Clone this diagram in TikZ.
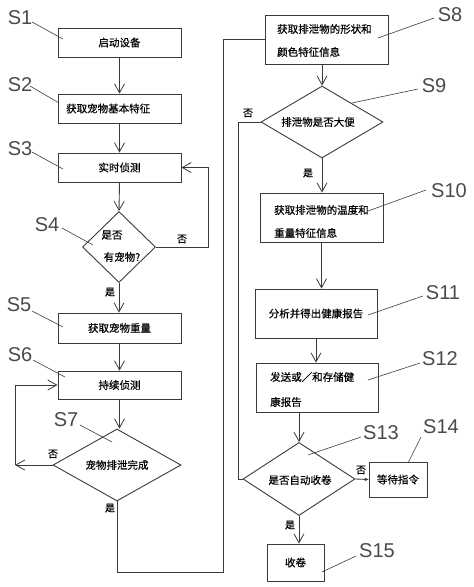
\documentclass[tikz,border=0pt]{standalone}
\usepackage{fontspec}
\setmainfont{Liberation Sans}
\newfontfamily\cjk[FakeBold=0.5]{Noto Sans CJK SC}
\usetikzlibrary{arrows.meta,shapes.geometric}
\definecolor{ln}{HTML}{3A3A3A}
\definecolor{lb}{HTML}{4A4A4A}
\tikzset{
  box/.style={draw=ln, line width=0.9pt, inner sep=0pt, font=\cjk\fontsize{10.5}{12}\selectfont},
  dia/.style={draw=ln, line width=0.9pt, diamond, inner sep=0pt, aspect=1},
  txt/.style={inner sep=0pt, font=\cjk\fontsize{10.5}{12}\selectfont},
  yn/.style={inner sep=0pt, font=\cjk\fontsize{10}{12}\selectfont},
  slab/.style={inner sep=0pt, text=lb, font=\fontsize{20}{22}\selectfont},
  lead/.style={draw=ln, line width=0.6pt},
  conn/.style={draw=ln, line width=0.9pt},
  arr/.style={conn, -{Straight Barb[length=9pt,width=10pt,line width=0.8pt]}},
  sarr/.style={conn, -{Stealth[length=4pt,width=3.5pt]}}
}
\begin{document}
\begin{tikzpicture}[x=1pt,y=-1pt]
\useasboundingbox (0,0) rectangle (474,587);
% ---- left column
\node[box, minimum width=123pt, minimum height=29pt] (s1) at (119.5,42.5) {启动设备};
\node[box, minimum width=123pt, minimum height=29pt] (s2) at (119.5,108.5) {};
\node[txt, anchor=west] (t2) at (66,108.5) {获取宠物基本特征};
\node[box, minimum width=123pt, minimum height=29pt] (s3) at (119.5,167.5) {实时侦测};
\node[dia, minimum width=73pt, minimum height=71pt] (s4) at (119,247) {};
\node[txt] (t4a) at (112,235) {是否};
\node[txt] (t4b) at (122,257) {有宠物?};
\node[box, minimum width=123pt, minimum height=30pt] (s5) at (119.5,328) {获取宠物重量};
\node[box, minimum width=123pt, minimum height=28pt] (s6) at (119.5,385) {持续侦测};
\node[dia, minimum width=128pt, minimum height=72pt] (s7) at (117,465) {};
\node[txt] (t7) at (117,465) {宠物排泄完成};
% ---- right column
\node[box, minimum width=123pt, minimum height=49pt] (s8) at (326.5,39.5) {};
\node[txt, anchor=west] (t8a) at (277,29) {获取排泄物的形状和};
\node[txt, anchor=west] (t8b) at (277,52) {颜色特征信息};
\node[dia, minimum width=122pt, minimum height=72pt] (s9) at (322,122) {};
\node[txt] (t9) at (318,122) {排泄物是否大便};
\node[box, minimum width=123pt, minimum height=49pt] (s10) at (321.5,217.5) {};
\node[txt, anchor=west] (t10a) at (274,210) {获取排泄物的温度和};
\node[txt, anchor=west] (t10b) at (274,233) {重量特征信息};
\node[box, minimum width=122pt, minimum height=49pt] (s11) at (316,313.5) {分析并得出健康报告};
\node[box, minimum width=122pt, minimum height=49pt] (s12) at (317,387.5) {};
\node[txt, anchor=west] (t12a) at (270,377) {发送或／和存储健};
\node[txt, anchor=west] (t12b) at (270,402) {康报告};
\node[dia, minimum width=112pt, minimum height=73pt] (s13) at (299,479) {};
\node[txt] (t13) at (300,480) {是否自动收卷};
\node[box, minimum width=58pt, minimum height=35pt] (s14) at (398,479.5) {等待指令};
\node[box, minimum width=57pt, minimum height=37pt] (s15) at (295.5,562.5) {收卷};
% ---- step labels
\node[slab] (l1) at (20,18) {S1};
\node[slab] (l2) at (20,85) {S2};
\node[slab] (l3) at (20,149) {S3};
\node[slab] (l4) at (47,225) {S4};
\node[slab] (l5) at (19,305) {S5};
\node[slab] (l6) at (20,355) {S6};
\node[slab] (l7) at (66,420) {S7};
\node[slab] (l8) at (450,15) {S8};
\node[slab] (l9) at (434,86) {S9};
\node[slab] (l10) at (449,191) {S10};
\node[slab] (l11) at (443,293) {S11};
\node[slab] (l12) at (440,359) {S12};
\node[slab] (l13) at (381,433) {S13};
\node[slab] (l14) at (441,427) {S14};
\node[slab] (l15) at (377,551) {S15};
\coordinate (e1) at (63,39);
\coordinate (e2) at (59,103);
\coordinate (e3) at (63,169);
\coordinate (e4) at (93,245);
\coordinate (e5) at (63,327);
\coordinate (e6) at (65,377);
\coordinate (e7) at (112,442);
\coordinate (e8) at (378,38);
\coordinate (e9) at (352,103);
\coordinate (e10) at (368,211);
\coordinate (e11) at (368,315);
\coordinate (e12) at (368,380);
\coordinate (e13) at (308,455);
\coordinate (e14) at (408,463);
\coordinate (e15) at (322,572);
\draw[lead] (32,22) -- (e1);
\draw[lead] (30,86) -- (e2);
\draw[lead] (32,152) -- (e3);
\draw[lead] (62,228) -- (e4);
\draw[lead] (32,311) -- (e5);
\draw[lead] (33,360) -- (e6);
\draw[lead] (80,425) -- (e7);
\draw[lead] (434,18) -- (e8);
\draw[lead] (418,89) -- (e9);
\draw[lead] (426,190) -- (e10);
\draw[lead] (423,296) -- (e11);
\draw[lead] (420,363) -- (e12);
\draw[lead] (361,437) -- (e13);
\draw[lead] (421,437) -- (e14);
\draw[lead] (356,556) -- (e15);
% ---- connectors
\draw[arr] (s1.south) -- (s2.north);
\draw[arr] (s2.south) -- (s3.north);
\draw[arr] (s3.south) -- (s4.north);
\draw[arr] (s4.south) -- (s4.south |- s5.north);
\coordinate (c4) at (208,247);
\draw[arr] (s4.east) -- (c4) |- (s3.east);
\draw[arr] (s5.south) -- (s6.north);
\draw[arr] (s6.south) -- (s6.south |- s7.north);
\coordinate (c7) at (15,465);
\draw[arr] (s7.west) -- (c7);
\draw[arr] (c7) |- (s6.west);
\coordinate (c7b) at (223,572);
\draw[conn] (s7.south) |- (c7b) |- (s8.west);
\draw[arr] (s9.north |- s8.south) -- (s9.north);
\draw[arr] (s9.south) -- (s9.south |- s10.north);
\coordinate (c9) at (238,122);
\draw[conn] (s9.west) -- (c9) |- (s13.west);
\draw[arr] (s10.south) -- (s10.south |- s11.north);
\draw[arr] (s11.south) -- (s11.south |- s12.north);
\draw[arr] (s13.north |- s12.south) -- (s13.north);
\draw[sarr] (s13.east) -- (s14.west);
\draw[arr] (s13.south) -- (s13.south |- s15.north);
% ---- yes / no
\node[yn] (n4) at (182,239) {否};
\node[yn] (y4) at (110,292) {是};
\node[yn] (n7) at (53,454) {否};
\node[yn] (y7) at (110,508) {是};
\node[yn] (n9) at (248,113) {否};
\node[yn] (y9) at (308,173) {是};
\node[yn] (n13) at (361,470) {否};
\node[yn] (y13) at (290,525) {是};
\end{tikzpicture}
\end{document}
